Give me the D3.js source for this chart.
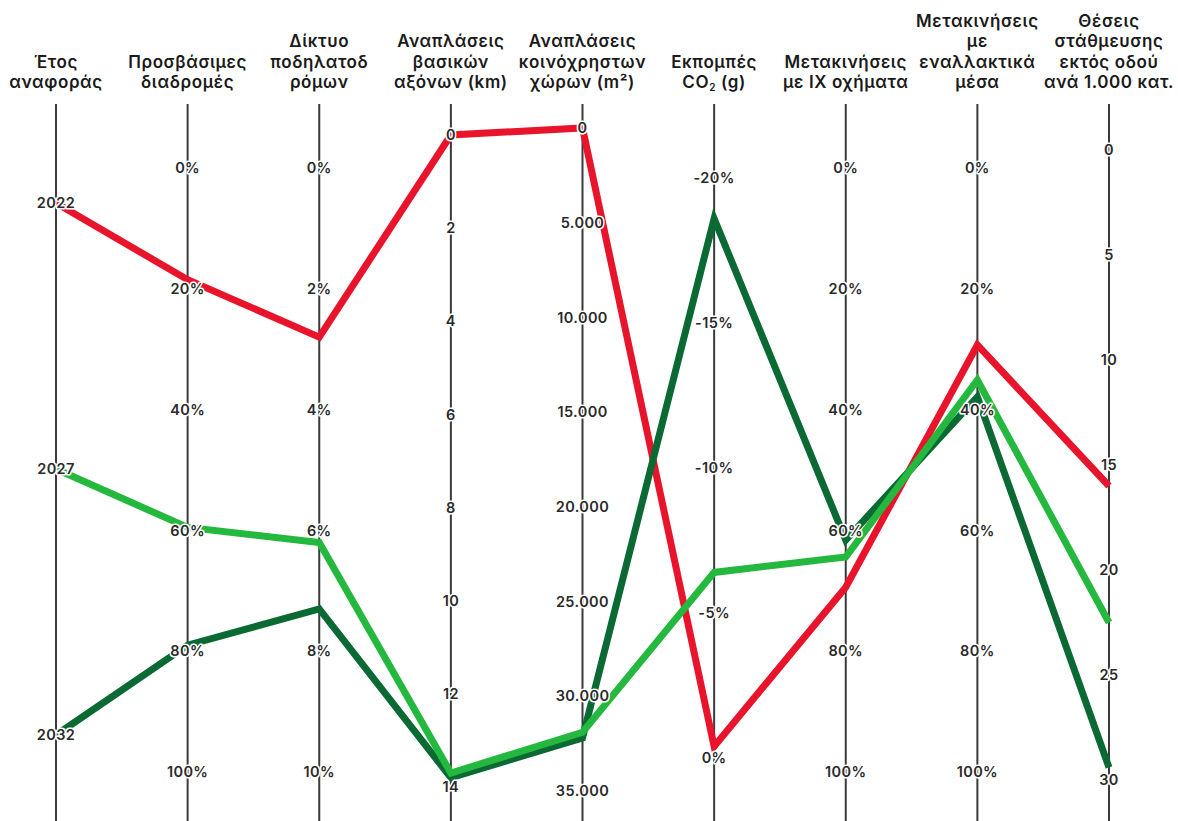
<!DOCTYPE html>
<html>
<head>
<meta charset="utf-8">
<script src="https://cdn.jsdelivr.net/npm/d3@7"></script>
<style>
  body { margin: 0; background: #fff; }
  text { font-family: Inter, "Open Sans", sans-serif; }
</style>
</head>
<body>
<script>
// axis titles (one array per axis, one entry per line)
var titles = [
  ["Έτος", "αναφοράς"],
  ["Προσβάσιμες", "διαδρομές"],
  ["Δίκτυο", "ποδηλατοδ", "ρόμων"],
  ["Αναπλάσεις", "βασικών", "αξόνων (km)"],
  ["Αναπλάσεις", "κοινόχρηστων", "χώρων (m²)"],
  ["Εκπομπές", "CO₂ (g)"],
  ["Μετακινήσεις", "με ΙΧ οχήματα"],
  ["Μετακινήσεις", "με", "εναλλακτικά", "μέσα"],
  ["Θέσεις", "στάθμευσης", "εκτός οδού", "ανά 1.000 κατ."]
];

// series values, in axis order
var series2022 = [2022, 18.5, 2.8, 0, 0, -0.4, 69.4, 29.3, 16];
var series2027 = [2027, 59.5, 6.2, 13.7, 31900, -6.4, 64.4, 35.1, 22.5];
var series2032 = [2032, 79, 7.3, 13.8, 32200, -18.6, 61.6, 37.9, 29.4];

// tick values per axis
var yearTicks = [2022, 2027, 2032];
var pctTicks = [0, 20, 40, 60, 80, 100];
var bikeTicks = [0, 2, 4, 6, 8, 10];
var kmTicks = [0, 2, 4, 6, 8, 10, 12, 14];
var areaTicks = [0, 5000, 10000, 15000, 20000, 25000, 30000, 35000];
var co2Ticks = [-20, -15, -10, -5, 0];
var parkTicks = [0, 5, 10, 15, 20, 25, 30];

var width = 1178, height = 821;

var svg = d3.select("body").append("svg")
    .attr("width", width)
    .attr("height", height);

var gr = d3.formatLocale({decimal: ",", thousands: ".", grouping: [3], currency: ["", "€"], minus: "-"});
var fmtNum = gr.format(",");
var fmtPct = function(d){ return gr.format("d")(d) + "%"; };

// one scale per axis (domain, pixel range on the page, ticks, format)
var axes = [
  {domain: [2022, 2032], range: [203, 735], ticks: yearTicks, fmt: function(d){ return d; }},
  {domain: [0, 100], range: [168, 772], ticks: pctTicks, fmt: fmtPct},
  {domain: [0, 10], range: [168, 772], ticks: bikeTicks, fmt: fmtPct},
  {domain: [0, 14], range: [135, 787], ticks: kmTicks, fmt: fmtNum},
  {domain: [0, 35000], range: [128, 791], ticks: areaTicks, fmt: fmtNum},
  {domain: [-20, 0], range: [178, 758], ticks: co2Ticks, fmt: fmtPct},
  {domain: [0, 100], range: [168, 772], ticks: pctTicks, fmt: fmtPct},
  {domain: [0, 100], range: [168, 772], ticks: pctTicks, fmt: fmtPct},
  {domain: [0, 30], range: [150, 780], ticks: parkTicks, fmt: fmtNum}
];
axes.forEach(function(a){ a.scale = d3.scaleLinear().domain(a.domain).range(a.range); });

var x = d3.scalePoint()
    .domain(d3.range(axes.length))
    .range([56, 1109]);

// vertical axis lines
svg.append("g").selectAll("line")
    .data(axes)
    .join("line")
    .attr("x1", function(d, i){ return x(i); })
    .attr("x2", function(d, i){ return x(i); })
    .attr("y1", 104)
    .attr("y2", height)
    .attr("stroke", "#3a3a3a")
    .attr("stroke-width", 2);

// series lines
var seriesData = [
  {values: series2022, color: "#e8142b"},
  {values: series2032, color: "#0b6a34"},
  {values: series2027, color: "#25b83f"}
];

var line = d3.line()
    .x(function(d, i){ return x(i); })
    .y(function(d, i){ return axes[i].scale(d); });

svg.append("g").selectAll("path")
    .data(seriesData)
    .join("path")
    .attr("d", function(d){ return line(d.values); })
    .attr("fill", "none")
    .attr("stroke", function(d){ return d.color; })
    .attr("stroke-width", 7)
    .attr("stroke-linejoin", "miter");

// tick labels (centered on each axis with a white halo)
axes.forEach(function(a, i){
  var g = svg.append("g")
      .attr("transform", "translate(" + x(i) + ",0)")
      .call(d3.axisLeft(a.scale).tickValues(a.ticks).tickSize(0).tickFormat(a.fmt));
  g.select(".domain").remove();
  g.selectAll("text")
      .attr("x", 0)
      .attr("text-anchor", "middle")
      .attr("fill", "#2a2a2a")
      .attr("font-family", "Inter, 'Open Sans', sans-serif")
      .attr("font-size", 14.5)
      .attr("font-weight", 600)
      .attr("letter-spacing", 0.4)
      .attr("stroke", "#fff")
      .attr("stroke-width", 3)
      .attr("stroke-linejoin", "round")
      .attr("paint-order", "stroke");
});

// axis titles, bottom aligned
var lineH = 20.5;
titles.forEach(function(t, i){
  var txt = svg.append("text")
      .attr("x", x(i))
      .attr("text-anchor", "middle")
      .attr("font-size", 17)
      .attr("font-weight", 600)
      .attr("letter-spacing", 0.6)
      .attr("fill", "#1a1a1a");
  t.forEach(function(s, j){
    var y = 88 - (t.length - 1 - j) * lineH;
    if (s === "CO₂ (g)") {
      var ts = txt.append("tspan").attr("x", x(i)).attr("y", y);
      ts.append("tspan").text("CO");
      ts.append("tspan").attr("font-size", 10).attr("dy", 3).text("2");
      ts.append("tspan").attr("dy", -3).text(" (g)");
    } else {
      txt.append("tspan").attr("x", x(i)).attr("y", y).text(s);
    }
  });
});
</script>
</body>
</html>
